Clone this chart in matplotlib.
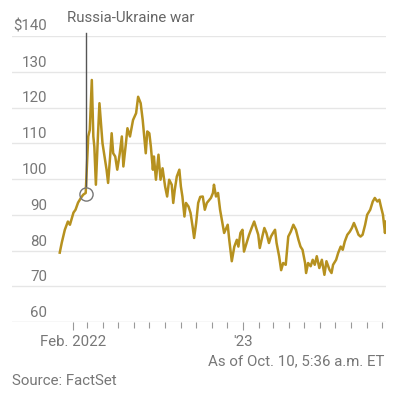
import pandas as pd
import matplotlib
matplotlib.use("Agg")
import matplotlib.pyplot as plt
import matplotlib.dates as mdates

# --- data (days since 2022-01-01, price in $) ---
START = pd.Timestamp("2022-01-01")
days = [5, 9, 15, 21, 25, 32, 36, 41, 47, 51, 56,
        61, 64, 68, 71, 73, 76, 80, 83, 86, 89, 94, 97, 100, 104, 107, 110,
        114, 118, 123, 127, 130, 135, 138, 143, 149, 155, 159, 164, 168, 170,
        174, 177, 181, 184, 188, 190, 194, 199, 203, 207, 212, 216, 220, 225,
        228, 231, 235, 240, 243, 246, 250, 253, 258, 262, 266, 269, 273, 277,
        281, 286, 290, 294, 302, 306, 308, 312, 316, 320, 324, 328, 335, 338,
        343, 348, 353, 356, 360, 364, 367, 372, 377, 382, 387, 392, 395, 398,
        403, 407, 411, 416, 420, 424, 428, 431, 436, 440, 444, 449, 454, 459,
        464, 469, 474, 478, 482, 487, 489, 493, 498, 502, 506, 510, 515, 520,
        525, 529, 535, 539, 542, 548, 552, 557, 561, 565, 570, 575, 579, 583,
        587, 592, 596, 600, 605, 609, 615, 620, 624, 629, 633, 636, 640, 644,
        646]
prices = [79.4, 82.2, 85.8, 88.1, 87.2, 90.6, 91.4, 93.4, 94.8, 95.6, 96.1,
          111.9, 113.7, 127.7, 111.9, 109.0, 98.4, 111.9, 121.2, 115.6, 110.0,
          105.4, 102.6, 98.9, 106.3, 112.8, 107.2, 106.3, 102.6, 107.2, 111.9,
          103.5, 110.0, 114.2, 111.9, 116.5, 118.4, 123.0, 121.2, 116.5, 113.3,
          107.2, 113.3, 112.8, 109.1, 102.6, 106.3, 99.8, 106.8, 99.8, 103.0,
          97.9, 95.1, 99.8, 98.4, 93.3, 97.0, 100.7, 102.6, 97.9, 95.1, 89.5,
          93.3, 92.3, 90.5, 86.7, 83.5, 87.7, 93.3, 95.0, 95.1, 91.4, 93.3,
          94.7, 96.1, 98.4, 95.1, 96.1, 91.4, 88.1, 84.9, 87.2, 83.0, 77.0,
          81.1, 83.0, 81.1, 84.9, 85.8, 79.7, 82.1, 84.4, 86.3, 88.1, 85.8,
          84.4, 80.7, 83.9, 86.3, 84.9, 82.1, 83.9, 84.9, 85.8, 82.1, 78.4,
          74.5, 76.5, 76.0, 83.9, 85.3, 87.2, 85.8, 83.0, 81.1, 80.2, 76.5,
          73.7, 76.5, 75.6, 77.4, 76.0, 78.4, 75.1, 77.4, 73.2, 77.0, 74.6,
          73.7, 76.0, 77.4, 79.3, 81.1, 80.2, 82.5, 84.4, 85.3, 86.3, 87.7,
          86.3, 84.4, 83.9, 84.4, 87.2, 90.0, 91.4, 93.7, 94.7, 93.7, 94.2,
          92.3, 90.0, 84.9, 88.1]
EVENT_DAY = 56
EVENT_LABEL = "Russia-Ukraine war"
y_ticks = [60, 70, 80, 90, 100, 110, 120, 130, 140]
y_labels = ["60", "70", "80", "90", "100", "110", "120", "130", "$140"]
x_major = ["2022-02-01", "2023-01-01"]
x_major_labels = ["Feb. 2022", "'23"]

LINE = "#b6911f"
GRID = "#e6e6e6"
TXT = "#777777"
FS = 10.8

plt.rcParams["font.family"] = ["Roboto", "DejaVu Sans"]

dates = START + pd.to_timedelta(days, unit="D")
event_date = START + pd.Timedelta(days=EVENT_DAY)
event_price = prices[days.index(EVENT_DAY)]

fig = plt.figure(figsize=(3.93, 3.94), dpi=100)
W, H = 393, 394
ax = fig.add_axes([12 / W, 1 - 322 / H, 374 / W, 286 / H])

for y in y_ticks:
    ax.axhline(y, color="#d9d9d9" if y == 60 else GRID, lw=1, zorder=0)
for y, lab in zip(y_ticks, y_labels):
    ax.annotate(lab, xy=(35 / 374, y), xycoords=("axes fraction", "data"),
                xytext=(0, 5), textcoords="offset pixels",
                ha="right", va="baseline", fontsize=FS, color=TXT)

ax.plot(dates, prices, color=LINE, lw=1.8, solid_joinstyle="round", zorder=3)

# event marker
ax.plot([event_date, event_date], [event_price + 2.0, 140.9], color="#555555",
        lw=1, clip_on=False, zorder=4)
ax.plot([event_date], [event_price - 0.3], marker="o", ms=9.5, mfc="none",
        mec="#777777", mew=1, zorder=5)
fig.text(67 / W, 1 - 18 / H, EVENT_LABEL, ha="left", va="center",
         fontsize=FS, color="#666666")

ax.set_ylim(60, 140)
ax.set_xlim(START - pd.Timedelta(days=88.8), START + pd.Timedelta(days=646))

ax.set_xticks(pd.to_datetime(x_major))
ax.set_xticklabels(x_major_labels)
minor = [d for d in pd.date_range("2022-02-01", "2023-10-01", freq="MS")
         if d.strftime("%Y-%m-%d") not in x_major]
ax.set_xticks(minor, minor=True)
ax.tick_params(axis="x", which="major", length=6, width=0.8, color="#999999",
               labelsize=FS, labelcolor=TXT, pad=3)
ax.tick_params(axis="x", which="minor", length=4, width=0.8, color="#999999")
ax.set_yticks([])
for s in ax.spines.values():
    s.set_visible(False)

fig.text(384 / W, 1 - 361 / H, "As of Oct. 10, 5:36 a.m. ET", ha="right",
         va="center", fontsize=FS, color=TXT)
fig.text(12 / W, 1 - 381 / H, "Source: FactSet", ha="left", va="center",
         fontsize=FS, color=TXT)

fig.savefig("out.png", dpi=100)
